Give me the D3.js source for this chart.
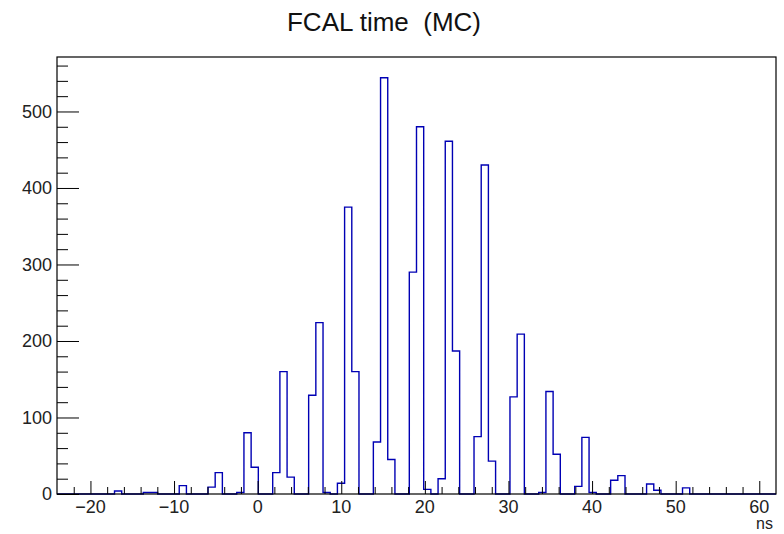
<!DOCTYPE html>
<html>
<head>
<meta charset="utf-8">
<script src="https://cdn.jsdelivr.net/npm/d3@7"></script>
<style>
  body { margin: 0; background: #fff; }
  text { font-family: "Liberation Sans", Arial, sans-serif; }
</style>
</head>
<body>
<div id="chart"></div>
<script>
// histogram range (ns) and bin contents, 100 bins
const xRange = [-24, 62];
const binCounts = [
  0, 0, 0, 0, 0, 0, 0, 0, 4, 0,
  0, 0, 2, 2, 0, 0, 0, 11, 0, 0,
  0, 9, 28, 0, 0, 2, 80, 35, 0, 0,
  28, 160, 22, 0, 0, 129, 224, 2, 0, 14,
  375, 160, 0, 0, 68, 544, 45, 0, 0, 290,
  480, 6, 0, 20, 461, 187, 0, 0, 75, 430,
  43, 0, 0, 127, 209, 0, 0, 2, 134, 52,
  0, 0, 10, 74, 2, 0, 0, 18, 24, 0,
  0, 0, 13, 5, 0, 0, 0, 8, 0, 0,
  0, 0, 0, 0, 0, 0, 0, 0, 0, 0
];
const xTickValues = [-20, -10, 0, 10, 20, 30, 40, 50, 60];
const yTickValues = [0, 100, 200, 300, 400, 500];
const titleText = "FCAL time  (MC)";
const xTitle = "ns";

const W = 784, H = 534;
const margin = {top: 57, right: 8, bottom: 40, left: 57};
const width = W - margin.left - margin.right;
const height = H - margin.top - margin.bottom;

const svg = d3.select("#chart").append("svg")
    .attr("width", W)
    .attr("height", H);

const g = svg.append("g")
    .attr("transform", `translate(${margin.left}, ${margin.top})`);

const nBins = binCounts.length;
const binW = (xRange[1] - xRange[0]) / nBins;

const x = d3.scaleLinear().domain(xRange).range([0, width]);
const y = d3.scaleLinear().domain([0, d3.max(binCounts) * 1.05]).range([height, 0]);

// histogram outline as a step path
const pts = [[xRange[0], 0]];
binCounts.forEach((v, i) => {
    const lo = xRange[0] + i * binW;
    pts.push([lo, v], [lo + binW, v]);
});
pts.push([xRange[1], 0]);

g.append("path")
    .datum(pts)
    .attr("fill", "none")
    .attr("stroke", "#0000b4")
    .attr("stroke-width", 1.4)
    .attr("d", d3.line().x(d => x(d[0])).y(d => y(d[1])));

// ticks (inside the frame, ROOT style)
const xMinor = d3.range(-22, 62, 2).filter(v => v % 10 !== 0);
const yMinor = d3.range(20, 571, 20).filter(v => v % 100 !== 0);

const xAxisMajor = d3.axisBottom(x).tickValues(xTickValues).tickSize(-13).tickFormat("");
const xAxisMinor = d3.axisBottom(x).tickValues(xMinor).tickSize(-7).tickFormat("");
const yAxisMajor = d3.axisLeft(y).tickValues(yTickValues).tickSize(-22).tickFormat("");
const yAxisMinor = d3.axisLeft(y).tickValues(yMinor).tickSize(-11).tickFormat("");

[xAxisMajor, xAxisMinor].forEach(ax => {
    g.append("g")
        .attr("class", "x axis")
        .attr("transform", `translate(0, ${height})`)
        .call(ax)
        .call(s => s.select(".domain").remove());
});
[yAxisMajor, yAxisMinor].forEach(ax => {
    g.append("g")
        .attr("class", "y axis")
        .call(ax)
        .call(s => s.select(".domain").remove());
});
g.selectAll(".axis line").attr("stroke", "#000").attr("stroke-width", 1);

// frame
g.append("rect")
    .attr("x", 0).attr("y", 0)
    .attr("width", width).attr("height", height)
    .attr("fill", "none")
    .attr("stroke", "#000")
    .attr("stroke-width", 1.2);

// tick labels
g.selectAll(".xlab")
    .data(xTickValues)
    .enter().append("text")
    .attr("class", "xlab")
    .attr("x", d => x(d))
    .attr("y", height + 19)
    .attr("text-anchor", "middle")
    .attr("font-size", 18)
    .attr("fill", "#222")
    .text(d => d < 0 ? "\u2212" + Math.abs(d) : d);

g.selectAll(".ylab")
    .data(yTickValues)
    .enter().append("text")
    .attr("class", "ylab")
    .attr("x", -5)
    .attr("y", d => y(d))
    .attr("dy", "0.36em")
    .attr("text-anchor", "end")
    .attr("font-size", 18)
    .attr("fill", "#222")
    .text(d => d);

g.append("text")
    .attr("x", width - 3)
    .attr("y", height + 35)
    .attr("text-anchor", "end")
    .attr("font-size", 16)
    .attr("fill", "#222")
    .text(xTitle);

svg.append("text")
    .attr("x", 384)
    .attr("y", 31)
    .attr("text-anchor", "middle")
    .attr("font-size", 26)
    .attr("fill", "#111")
    .style("white-space", "pre")
    .text(titleText);
</script>
</body>
</html>
